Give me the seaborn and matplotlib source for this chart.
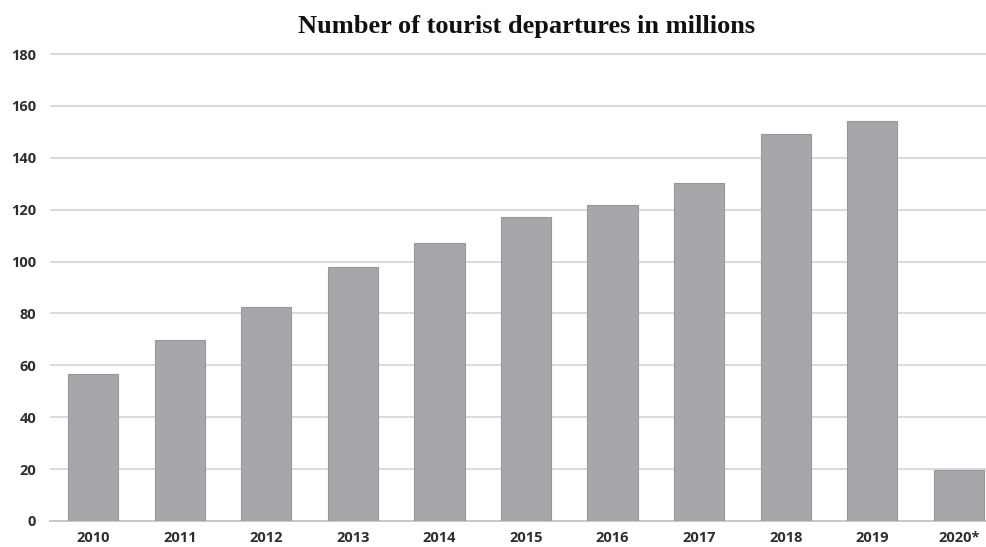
import matplotlib
matplotlib.use("Agg")
import matplotlib.pyplot as plt
import seaborn as sns
import pandas as pd

# Tourist departures per year (millions)
years = ["2010", "2011", "2012", "2013", "2014", "2015",
         "2016", "2017", "2018", "2019", "2020*"]
departures = [56.7, 69.9, 82.5, 98.0, 107.2, 117.1,
              122.0, 130.4, 149.3, 154.2, 19.6]
y_ticks = [0, 20, 40, 60, 80, 100, 120, 140, 160, 180]

df = pd.DataFrame({"year": years, "departures": departures})

sns.set_theme(style="white")
plt.rcParams["font.family"] = ["Open Sans", "DejaVu Sans"]

fig = plt.figure(figsize=(9.87, 5.47), dpi=100)
ax_bottom = 1 - 521 / 547
ax_height = 182 * 2.594 / 547
ax = fig.add_axes([50 / 987, ax_bottom, 952 / 987, ax_height])

sns.barplot(data=df, x="year", y="departures", ax=ax,
            color="#a6a7aa", saturation=1, width=0.58,
            edgecolor="#96979a", linewidth=0.8, zorder=3)

ax.set_xlim(-0.5, 10.5)
ax.set_ylim(0, 182)
ax.set_yticks(y_ticks)
ax.set_yticklabels([str(t) for t in y_ticks])
ax.yaxis.grid(True, color="#d9d9d9", linewidth=1.4, zorder=0)
ax.set_axisbelow(True)

for side in ["top", "right", "left"]:
    ax.spines[side].set_visible(False)
ax.spines["bottom"].set_color("#c8c8c8")
ax.spines["bottom"].set_linewidth(1.4)

ax.tick_params(axis="y", length=0, pad=10, labelsize=10.5, labelcolor="#2e2e2e")
ax.tick_params(axis="x", length=0, pad=7, labelsize=10.5, labelcolor="#2e2e2e")
for lab in ax.get_xticklabels() + ax.get_yticklabels():
    lab.set_fontweight("bold")

ax.set_xlabel("")
ax.set_ylabel("")

fig.text(527 / 987, 1 - 27 / 547, "Number of tourist departures in millions",
         ha="center", va="center", fontsize=19, fontweight="bold",
         family=["Liberation Serif", "DejaVu Serif"], color="#111111")

fig.savefig("out.png", dpi=100)
